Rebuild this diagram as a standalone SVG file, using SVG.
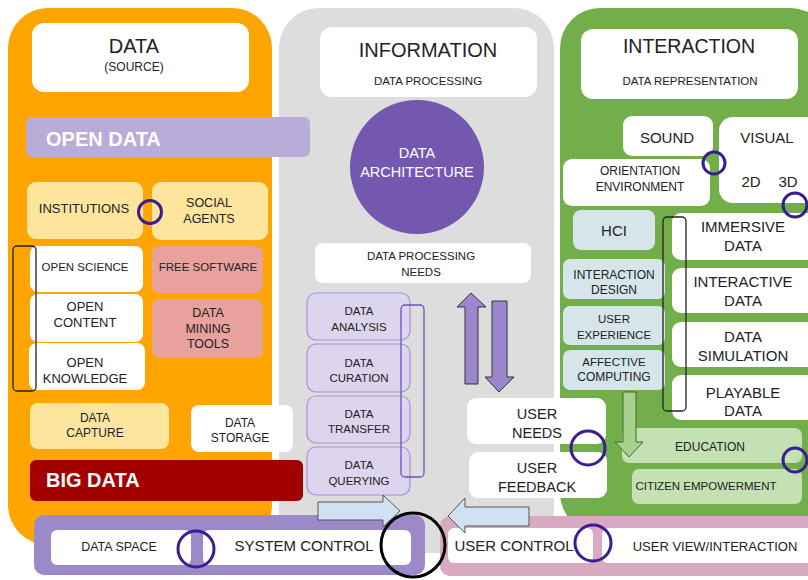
<svg xmlns="http://www.w3.org/2000/svg" width="808" height="580" viewBox="0 0 808 580">
<style>
text{font-family:"Liberation Sans",Arial,sans-serif;fill:#222;text-anchor:middle}
.w{fill:#fff}
.yel{fill:#fde59e}
.pnk{fill:#e9a19e}
.pur{fill:#ddd5ee;stroke:#a592d8;stroke-width:1.2}
.hci{fill:#d5e5e9}
.edu{fill:#c4e1b3}
.ring{fill:none;stroke:#3a1d92;stroke-width:3}
.brk{fill:none;stroke:#222;stroke-width:1.3}
.big{font-weight:bold;fill:#fff;text-anchor:start;font-size:20px}
.s11{font-size:11.5px}
.s12{font-size:12px}
.s125{font-size:12.5px}
.s13{font-size:13px}
.s14{font-size:14.5px}
.s15{font-size:15px}
.s20{font-size:20px}
</style>
<rect width="808" height="580" fill="#fff"/>
<!-- panels -->
<g id="panel-data"><rect x="8" y="8" width="264" height="537" rx="40" fill="#ffa502"/></g>
<g id="panel-information"><rect x="279" y="8" width="275" height="545" rx="40" fill="#dddddd"/></g>
<g id="panel-interaction"><rect x="560" y="8" width="270" height="525" rx="40" fill="#72ae4a"/></g>

<!-- headers -->
<g id="hdr-data"><rect x="32" y="23" width="217" height="69" rx="12" class="w"/>
<text x="134" y="53" class="s20">DATA</text><text x="134" y="71" class="s12">(SOURCE)</text></g>
<g id="hdr-information"><rect x="320" y="27" width="217" height="70" rx="12" class="w"/>
<text x="428" y="57" class="s20">INFORMATION</text><text x="428" y="85" class="s11">DATA PROCESSING</text></g>
<g id="hdr-interaction"><rect x="581" y="29" width="217" height="70" rx="12" class="w"/>
<text x="689" y="53" style="font-size:19.5px">INTERACTION</text><text x="690" y="85" class="s11">DATA REPRESENTATION</text></g>

<!-- data column -->
<g id="open-data"><rect x="26" y="117" width="284" height="40" rx="6" fill="#b9acd9"/><text x="46" y="146" class="big">OPEN DATA</text></g>
<g id="institutions"><rect x="27" y="182" width="116" height="57" rx="9" class="yel"/><text x="84" y="213" class="s13">INSTITUTIONS</text></g>
<g id="social-agents"><rect x="152" y="182" width="116" height="58" rx="9" class="yel"/><text x="209" y="207" class="s125">SOCIAL</text><text x="209" y="223" class="s125">AGENTS</text></g>
<g id="open-science"><rect x="30" y="246" width="113" height="46" rx="8" class="w"/><text x="85" y="271" class="s11">OPEN SCIENCE</text></g>
<g id="open-content"><rect x="30" y="294" width="113" height="48" rx="8" class="w"/><text x="85" y="311" class="s13">OPEN</text><text x="85" y="327" class="s13">CONTENT</text></g>
<g id="open-knowledge"><rect x="29" y="343" width="116" height="47" rx="8" class="w"/><text x="85" y="367" class="s13">OPEN</text><text x="85" y="383" class="s13">KNOWLEDGE</text></g>
<g id="free-software"><rect x="152" y="246" width="111" height="47" rx="8" class="pnk"/><text x="208" y="271" class="s11">FREE SOFTWARE</text></g>
<g id="data-mining-tools"><rect x="152" y="299" width="111" height="59" rx="8" class="pnk"/><text x="208" y="317" class="s125">DATA</text><text x="208" y="333" class="s125">MINING</text><text x="208" y="348" class="s125">TOOLS</text></g>
<g id="data-capture"><rect x="30" y="403" width="139" height="46" rx="8" class="yel"/><text x="95" y="422" class="s12">DATA</text><text x="95" y="437" class="s12">CAPTURE</text></g>
<g id="data-storage"><rect x="191" y="405" width="102" height="47" rx="8" class="w"/><text x="240" y="427" class="s12">DATA</text><text x="240" y="442" class="s12">STORAGE</text></g>
<g id="big-data"><rect x="30" y="460" width="273" height="41" rx="6" fill="#a30000"/><text x="46" y="487" class="big">BIG DATA</text></g>
<g id="open-bracket"><rect x="13" y="246" width="23" height="145" rx="4" class="brk"/></g>
<g id="ring-inst"><circle cx="150" cy="212" r="11.5" class="ring"/></g>

<!-- information column -->
<g id="data-architecture"><circle cx="417" cy="167" r="67" fill="#7458b0"/>
<text x="417" y="158" style="font-size:14.5px;fill:#fff">DATA</text><text x="417" y="177" style="font-size:14.5px;fill:#fff">ARCHITECTURE</text></g>
<g id="dp-needs"><rect x="315" y="243" width="216" height="40" rx="8" class="w"/><text x="421" y="260" class="s11">DATA PROCESSING</text><text x="421" y="276" class="s11">NEEDS</text></g>
<g id="data-analysis"><rect x="307" y="293" width="103" height="47" rx="9" class="pur"/><text x="359" y="315" class="s11">DATA</text><text x="359" y="331" class="s11">ANALYSIS</text></g>
<g id="data-curation"><rect x="307" y="344" width="103" height="48" rx="9" class="pur"/><text x="359" y="367" class="s11">DATA</text><text x="359" y="382" class="s11">CURATION</text></g>
<g id="data-transfer"><rect x="307" y="396" width="103" height="47" rx="9" class="pur"/><text x="359" y="418" class="s11">DATA</text><text x="359" y="433" class="s11">TRANSFER</text></g>
<g id="data-querying"><rect x="307" y="447" width="103" height="48" rx="9" class="pur"/><text x="359" y="469" class="s11">DATA</text><text x="359" y="485" class="s11">QUERYING</text></g>
<g id="proc-bracket"><rect x="401" y="305" width="23" height="172" rx="4" fill="none" stroke="#6b54b8" stroke-width="1.3"/></g>

<!-- interaction column -->
<g id="sound"><rect x="623" y="116" width="90" height="40" rx="9" class="w"/><text x="667" y="143" class="s15">SOUND</text></g>
<g id="visual"><rect x="719" y="117" width="110" height="86" rx="14" class="w"/><text x="767" y="143" class="s15">VISUAL</text><text x="751" y="187" class="s15">2D</text><text x="788" y="187" class="s15">3D</text></g>
<g id="orientation"><rect x="563" y="159" width="147" height="47" rx="9" class="w"/><text x="640" y="175" class="s12">ORIENTATION</text><text x="640" y="191" class="s12">ENVIRONMENT</text></g>
<g id="hci"><rect x="573" y="210" width="82" height="40" rx="8" class="hci"/><text x="614" y="236" class="s15">HCI</text></g>
<g id="interaction-design"><rect x="563" y="259" width="102" height="40" rx="7" class="hci"/><text x="614" y="279" class="s12">INTERACTION</text><text x="614" y="294" class="s12">DESIGN</text></g>
<g id="user-experience"><rect x="563" y="306" width="102" height="39" rx="7" class="hci"/><text x="614" y="323" class="s11">USER</text><text x="614" y="339" class="s11">EXPERIENCE</text></g>
<g id="affective-computing"><rect x="563" y="350" width="102" height="40" rx="7" class="hci"/><text x="614" y="366" class="s11">AFFECTIVE</text><text x="614" y="381" class="s12">COMPUTING</text></g>
<g id="immersive-data"><rect x="672" y="213" width="150" height="47" rx="9" class="w"/><text x="743" y="232" class="s15">IMMERSIVE</text><text x="743" y="251" class="s15">DATA</text></g>
<g id="interactive-data"><rect x="672" y="268" width="150" height="45" rx="9" class="w"/><text x="743" y="287" class="s15">INTERACTIVE</text><text x="743" y="306" class="s15">DATA</text></g>
<g id="data-simulation"><rect x="672" y="322" width="150" height="45" rx="9" class="w"/><text x="743" y="342" class="s15">DATA</text><text x="743" y="361" class="s15">SIMULATION</text></g>
<g id="playable-data"><rect x="672" y="375" width="150" height="45" rx="9" class="w"/><text x="743" y="398" class="s15">PLAYABLE</text><text x="743" y="416" class="s15">DATA</text></g>
<g id="repr-bracket"><rect x="663" y="217" width="23" height="194" rx="4" class="brk"/></g>
<g id="education"><rect x="622" y="428" width="180" height="35" rx="7" class="edu"/><text x="710" y="451" class="s12">EDUCATION</text></g>
<g id="citizen-empowerment"><rect x="632" y="469" width="170" height="35" rx="7" class="edu"/><text x="706" y="490" class="s11">CITIZEN EMPOWERMENT</text></g>
<g id="user-needs"><rect x="467" y="398" width="139" height="46" rx="9" class="w"/><text x="537" y="419" class="s14">USER</text><text x="537" y="438" class="s14">NEEDS</text></g>
<g id="user-feedback"><rect x="469" y="452" width="138" height="46" rx="9" class="w"/><text x="537" y="473" class="s14">USER</text><text x="537" y="492" class="s14">FEEDBACK</text></g>

<!-- bottom bars -->
<g id="system-bar"><rect x="34" y="515" width="391" height="60" rx="10" fill="#9c89c9"/>
<rect x="51" y="530" width="140" height="35" rx="6" class="w"/><rect x="203" y="530" width="208" height="35" rx="6" class="w"/>
<text x="119" y="551" class="s125">DATA SPACE</text><text x="304" y="551" class="s15">SYSTEM CONTROL</text></g>
<g id="user-bar"><rect x="440" y="516" width="380" height="60" rx="10" fill="#d9a8c1"/>
<rect x="448" y="528" width="145" height="35" rx="6" class="w"/><rect x="602" y="528" width="220" height="35" rx="6" class="w"/>
<text x="514" y="551" class="s15">USER CONTROL</text><text x="715" y="551" class="s13">USER VIEW/INTERACTION</text></g>

<!-- rings -->
<g id="rings">
<circle cx="714" cy="163" r="11" class="ring"/>
<circle cx="795" cy="205" r="12" class="ring"/>
<circle cx="588" cy="448" r="17" class="ring"/>
<circle cx="795" cy="460" r="12" class="ring"/>
<circle cx="196" cy="549" r="18" class="ring"/>
<circle cx="593" cy="543" r="18" class="ring"/>
</g>

<!-- connectors -->
<g id="connectors">
<polygon points="465,384 478,384 478,307 486,307 471,293 457,307 465,307" fill="#9c87cf" stroke="#333" stroke-width="1"/>
<polygon points="492,301 507,301 507,377 514,377 499,392 485,377 492,377" fill="#9c87cf" stroke="#333" stroke-width="1"/>
<polygon points="623,392 636,392 636,442 643,442 629,457 615,442 623,442" fill="#a9d18e" stroke="#3f6b2a" stroke-width="1"/>
<polygon points="318,502 383,502 383,495 400,511 383,527 383,520 318,520" fill="#cfe2f3" stroke="#555" stroke-width="1"/>
<polygon points="529,507 465,507 465,498 448,516 465,533 465,526 529,526" fill="#cfe2f3" stroke="#555" stroke-width="1"/>
<circle cx="413" cy="545" r="32" fill="none" stroke="#000" stroke-width="3"/>
</g>
</svg>
